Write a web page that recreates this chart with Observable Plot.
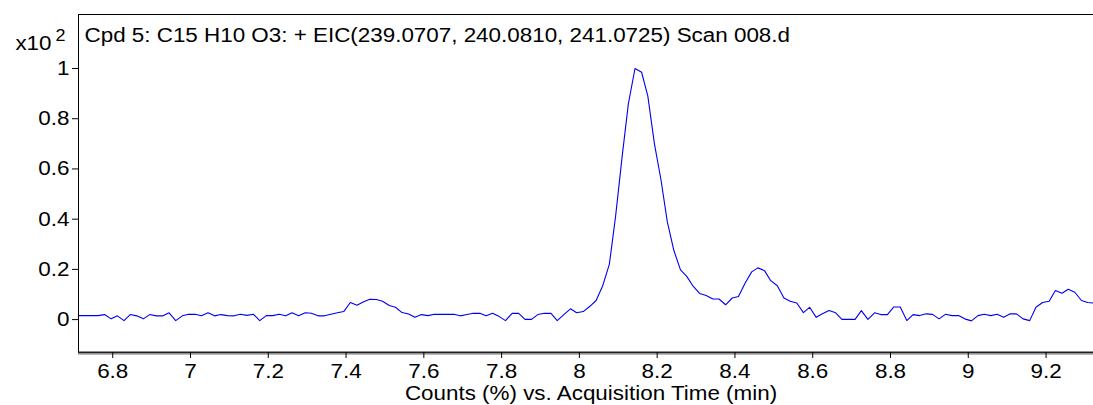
<!DOCTYPE html>
<html><head><meta charset="utf-8">
<script src="https://cdn.jsdelivr.net/npm/d3@7"></script>
<script src="https://cdn.jsdelivr.net/npm/@observablehq/plot@0.6"></script>
<style>body{margin:0;background:#fff} #chart{width:1093px;height:405px}</style>
</head><body><div id="chart"></div>
<script>
const times = [
6.712,6.729,6.746,6.762,6.779,6.796,6.812,6.829,6.845,6.862,
6.879,6.895,6.912,6.929,6.945,6.962,6.979,6.995,7.012,7.028,
7.045,7.062,7.078,7.095,7.112,7.128,7.145,7.162,7.178,7.195,
7.211,7.228,7.245,7.261,7.278,7.295,7.311,7.328,7.344,7.361,
7.378,7.394,7.411,7.428,7.444,7.461,7.478,7.494,7.511,7.527,
7.544,7.561,7.577,7.594,7.611,7.627,7.644,7.661,7.677,7.694,
7.711,7.727,7.744,7.760,7.777,7.794,7.810,7.827,7.844,7.860,
7.877,7.893,7.910,7.927,7.943,7.960,7.977,7.993,8.010,8.027,
8.043,8.060,8.077,8.093,8.110,8.126,8.143,8.160,8.176,8.193,
8.210,8.226,8.243,8.260,8.276,8.293,8.309,8.326,8.343,8.359,
8.376,8.393,8.409,8.426,8.443,8.459,8.476,8.492,8.509,8.526,
8.542,8.559,8.576,8.592,8.609,8.625,8.642,8.659,8.675,8.692,
8.709,8.725,8.742,8.759,8.775,8.792,8.808,8.825,8.842,8.858,
8.875,8.892,8.908,8.925,8.941,8.958,8.975,8.991,9.008,9.025,
9.041,9.058,9.074,9.091,9.108,9.124,9.141,9.158,9.174,9.191,
9.208,9.224,9.241,9.257,9.274,9.291,9.307,9.324];
const counts = [
0.016,0.016,0.016,0.016,0.020,0.003,0.015,-0.004,0.020,0.015,
0.003,0.020,0.015,0.015,0.027,-0.004,0.015,0.021,0.021,0.015,
0.027,0.015,0.020,0.016,0.015,0.021,0.017,0.021,-0.004,0.016,
0.016,0.021,0.015,0.027,0.015,0.027,0.025,0.015,0.015,0.021,
0.027,0.032,0.068,0.057,0.070,0.081,0.080,0.073,0.056,0.049,
0.028,0.022,0.009,0.020,0.016,0.021,0.021,0.021,0.021,0.015,
0.020,0.025,0.025,0.015,0.025,0.012,-0.004,0.025,0.025,0.001,
0.001,0.020,0.025,0.025,-0.004,0.020,0.043,0.027,0.032,0.053,
0.076,0.135,0.220,0.410,0.650,0.860,1.000,0.985,0.890,0.700,
0.555,0.390,0.275,0.198,0.172,0.132,0.104,0.096,0.082,0.082,
0.059,0.086,0.092,0.145,0.190,0.206,0.195,0.155,0.135,0.086,
0.073,0.066,0.028,0.049,0.009,0.023,0.036,0.027,0.001,0.001,
0.001,0.036,0.001,0.027,0.020,0.020,0.050,0.050,-0.004,0.020,
0.016,0.023,0.021,0.003,0.021,0.016,0.016,0.003,-0.005,0.016,
0.021,0.016,0.021,0.009,0.023,0.023,0.003,-0.004,0.049,0.068,
0.073,0.116,0.105,0.121,0.109,0.076,0.068,0.066];
const xTicks = [6.8,7,7.2,7.4,7.6,7.8,8,8.2,8.4,8.6,8.8,9,9.2];
const xTickLabels = ["6.8","7","7.2","7.4","7.6","7.8","8","8.2","8.4","8.6","8.8","9","9.2"];
const yTicks = [0,0.2,0.4,0.6,0.8,1];
const yTickLabels = ["0","0.2","0.4","0.6","0.8","1"];
const xDomain = [6.712, 9.322];
const yDomain = [-0.131, 1.215];
const titleText = "Cpd 5: C15 H10 O3: + EIC(239.0707, 240.0810, 241.0725) Scan 008.d";
const xAxisTitle = "Counts (%) vs. Acquisition Time (min)";
const yScaleBase = "x10";
const yScaleExp = "2";

const data = times.map((t, i) => ({t, v: counts[i]}));
const font = "'Liberation Sans', Arial, sans-serif";

const chart = Plot.plot({
  width: 1093, height: 405,
  marginLeft: 78, marginRight: 0, marginTop: 14, marginBottom: 53,
  style: {fontFamily: font, fontSize: "20px", color: "#000", background: "#fff"},
  x: {domain: xDomain},
  y: {domain: yDomain},
  marks: [
    Plot.line(data, {x: "t", y: "v", stroke: "#0000f0", strokeWidth: 1.1}),
    Plot.frame({stroke: "#000", strokeWidth: 1}),
    Plot.ruleY([yDomain[0]], {stroke: "#bbb", strokeWidth: 1, dy: 2}),
    Plot.ruleY([yDomain[0]], {stroke: "#222", strokeWidth: 2}),
    Plot.axisX({ticks: xTicks, tickSize: 6, tickPadding: 5, label: null,
      tickFormat: d => xTickLabels[xTicks.indexOf(d)]}),
    Plot.axisY({ticks: yTicks, tickSize: 6, tickPadding: 3, label: null,
      tickFormat: d => yTickLabels[yTicks.indexOf(d)]}),
    Plot.text([titleText], {frameAnchor: "top-left", dx: 6, dy: 13, lineAnchor: "top",
      textAnchor: "start", text: d => d, fill: "#000"}),
    Plot.text([yScaleBase], {frameAnchor: "top-left", dx: -27, dy: 21, lineAnchor: "top",
      textAnchor: "end", text: d => d, fill: "#000"}),
    Plot.text([yScaleExp], {frameAnchor: "top-left", dx: -23, dy: 15, lineAnchor: "top",
      textAnchor: "start", text: d => d, fill: "#000", fontSize: 16}),
    Plot.text([xAxisTitle], {frameAnchor: "bottom", dx: 5, dy: 33, lineAnchor: "top",
      textAnchor: "middle", text: d => d, fill: "#000"})
  ]
});
document.getElementById("chart").append(chart);
chart.querySelectorAll("text").forEach(el => {
  const w = el.getComputedTextLength();
  if (w > 0) {
    el.setAttribute("textLength", (w * 1.12).toFixed(1));
    el.setAttribute("lengthAdjust", "spacingAndGlyphs");
  }
});
</script>
</body></html>
